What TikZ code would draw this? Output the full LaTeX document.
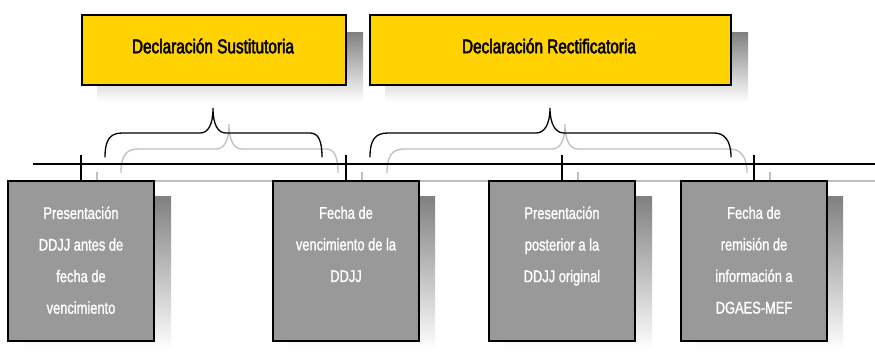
\documentclass[tikz,border=0pt]{standalone}
\usepackage{fontspec}
\setmainfont{Liberation Sans}[FakeStretch=0.76,FakeBold=1.2]
\newfontfamily\titlefont{Liberation Sans}[FakeStretch=0.77,FakeBold=2.4]
\definecolor{ybox}{RGB}{255,210,0}
\definecolor{gbox}{RGB}{153,153,153}
\definecolor{shade}{RGB}{191,191,191}
\definecolor{shline}{RGB}{190,190,190}
\begin{document}
\begin{tikzpicture}[x=1bp,y=-1bp,
  titlebox/.style={draw=black,line width=1.4bp,fill=ybox,rectangle,inner sep=0},
  stagebox/.style={draw=black,line width=1.4bp,fill=gbox,rectangle,inner sep=0},
  titletext/.style={font=\titlefont\fontsize{20}{22}\selectfont,text=black,inner sep=0},
  stagetext/.style={font=\fontsize{17}{31.7}\selectfont,text=white,align=center,anchor=north,inner sep=0},
  brace/.style={line width=1.3bp,line cap=round},
  sbrace/.style={line width=1.3bp,draw=shline},
  axis/.style={line width=1.4bp},
  saxis/.style={line width=1.4bp,draw=shline}]
\useasboundingbox (0,0) rectangle (875,351);
% ---------- shadows ----------
\fill[shade] (97,32) rectangle (363,102);
\fill[shade] (385,32) rectangle (748,102);
% brace shadows
\draw[sbrace] (121,173) .. controls (121,156) and (126,149) .. (138,149) -- (216,149) .. controls (224,149) and (229,141) .. (229,124) .. controls (229,141) and (234,149) .. (242,149) -- (326,149) .. controls (334,149) and (338,156) .. (338,173);
\draw[sbrace] (387,173) .. controls (387,156) and (392,149) .. (404,149) -- (552,149) .. controls (560,149) and (565,141) .. (565,124) .. controls (565,141) and (570,149) .. (578,149) -- (730,149) .. controls (740,149) and (747,156) .. (747,173);
% axis shadow
\draw[saxis] (48,181) -- (875,181);
\foreach \x in {97,362,578,770} \draw[saxis] (\x,172) -- (\x,198);
% stage box shadows
\fill[shade] (24,196) rectangle (171,350);
\fill[shade] (289,196) rectangle (435,350);
\fill[shade] (505,196) rectangle (652,350);
\fill[shade] (697,196) rectangle (843,350);
% ---------- main ----------
\node[titlebox,minimum width=264bp,minimum height=70bp] (t1) at (214,50) {};
\node[titletext] (t1l) at (213,46) {Declaración Sustitutoria};
\node[titlebox,minimum width=361bp,minimum height=70bp] (t2) at (550.5,50) {};
\node[titletext] (t2l) at (549,46) {Declaración Rectificatoria};
% braces
\draw[brace] (105,157) .. controls (105,140) and (110,133) .. (122,133) -- (200,133) .. controls (208,133) and (213,125) .. (213,108) .. controls (213,125) and (218,133) .. (226,133) -- (310,133) .. controls (318,133) and (322,140) .. (322,157);
\draw[brace] (370,157) .. controls (370,140) and (375,133) .. (388,133) -- (536,133) .. controls (544,133) and (550,125) .. (550,108) .. controls (550,125) and (556,133) .. (564,133) -- (714,133) .. controls (724,133) and (731,140) .. (731,157);
% axis
\draw[axis] (33,164) -- (875,164);
% stage boxes
\node[stagebox,minimum width=146bp,minimum height=160bp] (b1) at (81,261) {};
\node[stagebox,minimum width=146bp,minimum height=160bp] (b2) at (346,261) {};
\node[stagebox,minimum width=146bp,minimum height=160bp] (b3) at (562,261) {};
\node[stagebox,minimum width=146bp,minimum height=160bp] (b4) at (754,261) {};
% ticks
\foreach \b in {b1,b2,b3,b4} \draw[axis] (\b.north) -- ++(0,-25);
% texts
\node[stagetext] (b1t) at ([yshift=-26bp]b1.north) {Presentación\\DDJJ antes de\\fecha de\\vencimiento};
\node[stagetext] (b2t) at ([yshift=-26bp]b2.north) {Fecha de\\vencimiento de la\\DDJJ};
\node[stagetext] (b3t) at ([yshift=-26bp]b3.north) {Presentación\\posterior a la\\DDJJ original};
\node[stagetext] (b4t) at ([yshift=-26bp]b4.north) {Fecha de\\remisión de\\información a\\DGAES-MEF};
\end{tikzpicture}
\end{document}
